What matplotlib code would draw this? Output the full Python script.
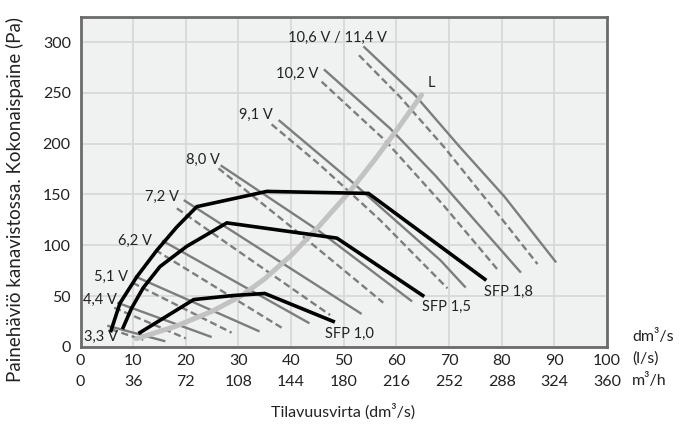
import matplotlib
matplotlib.use("Agg")
import matplotlib.pyplot as plt

plt.rcParams['font.family'] = ['Lato', 'DejaVu Sans']

# ---- data (dm3/s, Pa) ----
volt_labels = ["3,3 V", "4,4 V", "5,1 V", "6,2 V", "7,2 V", "8,0 V", "9,1 V", "10,2 V", "10,6 V / 11,4 V"]

solid_x = [
    [5.3, 15.9],
    [7.2, 24.7],
    [10.5, 33.8],
    [15.7, 43.3],
    [19.8, 53.2],
    [26.8, 45.5, 62.8],
    [37.8, 51.2, 68.4, 73.0],
    [46.4, 58.8, 67.5, 83.5],
    [53.9, 63.5, 72.0, 80.5, 90.2],
]
solid_y = [
    [20.5, 5.7],
    [43.0, 10.0],
    [69.0, 15.6],
    [104.0, 23.7],
    [143.8, 33.0],
    [178.0, 113.3, 45.4],
    [222.5, 164.0, 85.0, 59.2],
    [272.4, 215.0, 168.0, 73.9],
    [295.0, 248.0, 197.0, 148.0, 84.0],
]
dash_x = [
    [5.8, 11.9],
    [6.4, 20.0],
    [9.9, 28.7],
    [14.2, 38.2],
    [18.3, 47.4],
    [26.2, 41.0, 57.5],
    [36.3, 45.5, 56.9, 69.7],
    [45.8, 57.8, 69.0, 79.4],
    [52.9, 60.7, 69.0, 80.0, 86.8],
]
dash_y = [
    [17.2, 6.7],
    [38.5, 8.3],
    [63.0, 13.9],
    [95.3, 18.8],
    [136.3, 31.3],
    [175.7, 114.0, 43.4],
    [219.0, 179.0, 124.8, 57.6],
    [261.0, 203.5, 139.0, 74.9],
    [287.0, 246.0, 197.0, 126.0, 81.5],
]
label_pos = [(7.1, 10), (6.9, 46), (9.0, 69), (13.6, 104), (18.6, 147.7),
             (26.5, 184), (36.6, 228.8), (45.1, 269), (58.2, 304)]

sfp_labels = ["SFP 1,0", "SFP 1,5", "SFP 1,8"]
sfp_x = [
    [11.3, 21.5, 29.0, 35.0, 48.0],
    [8.1, 9.7, 11.9, 15.1, 20.2, 27.8, 48.7, 65.0],
    [5.8, 7.5, 10.7, 14.5, 18.3, 22.1, 35.4, 54.7, 76.8],
]
sfp_y = [
    [14.0, 46.5, 50.5, 52.5, 25.0],
    [19.0, 38.0, 58.0, 79.0, 99.0, 122.0, 107.0, 50.5],
    [16.0, 43.0, 69.0, 95.0, 118.0, 138.0, 153.0, 151.0, 66.5],
]
sfp_label_pos = [(51.0, 12.6), (69.5, 39.5), (81.3, 53.6)]

L_x = [10.6, 18.0, 25.0, 30.5, 35.0, 40.0, 45.0, 51.0, 56.0, 60.0, 64.8]
L_y = [8.0, 20.0, 35.0, 50.0, 67.0, 90.0, 117.0, 152.0, 185.0, 213.0, 248.0]

xticks = [0, 10, 20, 30, 40, 50, 60, 70, 80, 90, 100]
xticks_m3h = ["0", "36", "72", "108", "144", "180", "216", "252", "288", "324", "360"]
yticks = [0, 50, 100, 150, 200, 250, 300]

# ---- figure ----
fig = plt.figure(figsize=(6.86, 4.32), dpi=100)
ax = fig.add_axes([80.5 / 686, 1 - 346.8 / 432, (607 - 80.5) / 686, (346.8 - 16.7) / 432])
ax.set_facecolor('#f0f1f1')
ax.set_xlim(0, 100)
ax.set_ylim(0, 325)
ax.set_xticks(xticks)
ax.set_yticks(yticks)
ax.grid(True, color='#d8d8d8', lw=1.3)
ax.set_axisbelow(True)
for s in ax.spines.values():
    s.set_color('#6b6b6b')
    s.set_linewidth(2)
ax.tick_params(length=0, labelsize=11.5, colors='#222222')
ax.tick_params(axis='x', pad=5)
ax.tick_params(axis='y', pad=7)

gray = '#7d7d7d'
for xs, ys in zip(dash_x, dash_y):
    ax.plot(xs, ys, color=gray, lw=1.7, ls=(0, (3, 1.6)), solid_capstyle='butt')
for xs, ys in zip(solid_x, solid_y):
    ax.plot(xs, ys, color=gray, lw=1.7)

ax.plot(L_x, L_y, color='#c2c2c2', lw=3.6, solid_capstyle='round')
ax.text(66.7, 260, "L", fontsize=10.5, ha='center', va='center', color='#222222')

for xs, ys in zip(sfp_x, sfp_y):
    ax.plot(xs, ys, color='black', lw=2.6, solid_joinstyle='miter')

for lab, (x, y) in zip(volt_labels, label_pos):
    ax.text(x, y, lab, fontsize=10.5, ha='right', va='center', color='#222222')
for lab, (x, y) in zip(sfp_labels, sfp_label_pos):
    ax.text(x, y, lab, fontsize=10.5, ha='center', va='center', color='#222222')

# second row of x labels (m3/h)
for xv, lab in zip(xticks, xticks_m3h):
    ax.annotate(lab, xy=(xv, 0), xycoords=('data', 'axes fraction'),
                xytext=(0, -25), textcoords='offset points',
                ha='center', va='center', fontsize=11.5, color='#222222')

fig.text(632 / 686, 1 - 336 / 432, "dm³/s", fontsize=11.5, ha='left', va='center', color='#222222')
fig.text(632 / 686, 1 - 359 / 432, "(l/s)", fontsize=11.5, ha='left', va='center', color='#222222')
fig.text(632 / 686, 1 - 380 / 432, "m³/h", fontsize=11.5, ha='left', va='center', color='#222222')

fig.text(343 / 686, 1 - 412 / 432, "Tilavuusvirta (dm³/s)", fontsize=11.5, ha='center', va='center', color='#222222')
fig.text(15 / 686, 1 - 200 / 432, "Painehäviö kanavistossa. Kokonaispaine (Pa)", fontsize=13.5,
         rotation=90, ha='center', va='center', color='#222222')

fig.savefig("out.png", dpi=100)
